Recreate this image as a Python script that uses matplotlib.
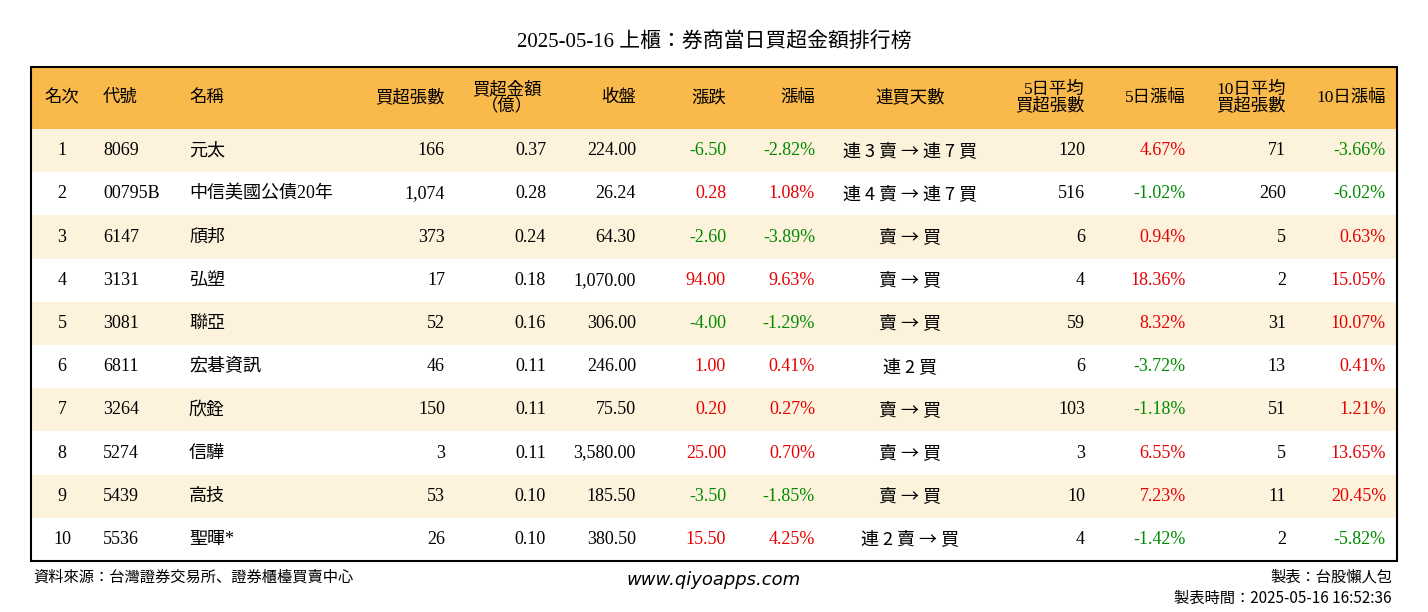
import matplotlib
matplotlib.use("Agg")
import matplotlib.pyplot as plt
from matplotlib.patches import Rectangle
from matplotlib import font_manager as fm

ranks = list(range(1, 11))
codes = ["8069", "00795B", "6147", "3131", "3081", "6811", "3264", "5274", "5439", "5536"]
names = ["元太", "中信美國公債20年", "頎邦", "弘塑", "聯亞", "宏碁資訊", "欣銓", "信驊", "高技", "聖暉*"]
net_lots = [166, 1074, 373, 17, 52, 46, 150, 3, 53, 26]
net_amt = [0.37, 0.28, 0.24, 0.18, 0.16, 0.11, 0.11, 0.11, 0.10, 0.10]
close = [224.00, 26.24, 64.30, 1070.00, 306.00, 246.00, 75.50, 3580.00, 185.50, 380.50]
change = [-6.50, 0.28, -2.60, 94.00, -4.00, 1.00, 0.20, 25.00, -3.50, 15.50]
pct = [-2.82, 1.08, -3.89, 9.63, -1.29, 0.41, 0.27, 0.70, -1.85, 4.25]
streak = ["連 3 賣 → 連 7 買", "連 4 賣 → 連 7 買", "賣 → 買", "賣 → 買", "賣 → 買",
          "連 2 買", "賣 → 買", "賣 → 買", "賣 → 買", "連 2 賣 → 買"]
avg5 = [120, 516, 6, 4, 59, 6, 103, 3, 10, 4]
pct5 = [4.67, -1.02, 0.94, 18.36, 8.32, -3.72, -1.18, 6.55, 7.23, -1.42]
avg10 = [71, 260, 5, 2, 31, 13, 51, 5, 11, 2]
pct10 = [-3.66, -6.02, 0.63, 15.05, 10.07, 0.41, 1.21, 13.65, 20.45, -5.82]

avail = {f.name for f in fm.fontManager.ttflist}
cjk = [n for n in ["Noto Sans CJK TC", "Noto Sans CJK JP", "Noto Sans CJK SC",
                   "Noto Sans CJK KR", "Noto Serif CJK TC", "Noto Serif CJK JP"] if n in avail]
CJK = cjk[0] if cjk else "DejaVu Sans"
FONT = ["Liberation Serif", CJK]
RED, GREEN = "#e60000", "#008a00"

fig = plt.figure(figsize=(14.28, 6.12), dpi=100)
ax = fig.add_axes([0, 0, 1, 1])
ax.set_xlim(0, 1428); ax.set_ylim(612, 0); ax.axis("off")

L, R, T, HB = 31, 1397, 67, 129
RH = 43.2
ax.add_patch(Rectangle((L, T), R - L, HB - T, color="#F9B94B", lw=0))
for i in range(10):
    y0 = HB + i * RH
    ax.add_patch(Rectangle((L, y0), R - L, RH, color="#FDF3DC" if i % 2 == 0 else "white", lw=0))
ax.add_patch(Rectangle((L, T), R - L, HB + 10 * RH - T, fill=False, ec="black", lw=1.5))

ax.text(714, 42, "2025-05-16 上櫃：券商當日買超金額排行榜", ha="center", va="center",
        fontsize=15, fontfamily=FONT, fontweight="normal")

hy = (T + HB) / 2
headers = [(62, "center", "名次"), (103, "left", "代號"), (189, "left", "名稱"),
           (445, "right", "買超張數"), (507, "center", "買超金額\n（億）"), (636, "right", "收盤"),
           (726, "right", "漲跌"), (815, "right", "漲幅"), (910, "center", "連買天數"),
           (1085, "right", "5日平均\n買超張數"), (1186, "right", "5日漲幅"),
           (1286, "right", "10日平均\n買超張數"), (1386, "right", "10日漲幅")]
for x, ha, t in headers:
    ax.text(x, hy, t, ha=ha, va="center", fontsize=12.5, fontfamily=FONT,
            linespacing=0.95, fontweight="normal")

def col(v):
    return RED if v > 0 else GREEN

fs = 13
for i in range(10):
    y = HB + (i + 0.5) * RH
    kw = dict(va="center", fontsize=fs, fontfamily=FONT)
    ax.text(62, y, str(ranks[i]), ha="center", **kw)
    ax.text(103, y, codes[i], ha="left", **kw)
    ax.text(189, y, names[i], ha="left", **kw)
    ax.text(445, y, f"{net_lots[i]:,}", ha="right", **kw)
    ax.text(546, y, f"{net_amt[i]:.2f}", ha="right", **kw)
    ax.text(636, y, f"{close[i]:,.2f}", ha="right", **kw)
    ax.text(726, y, f"{change[i]:.2f}", ha="right", color=col(change[i]), **kw)
    ax.text(815, y, f"{pct[i]:.2f}%", ha="right", color=col(pct[i]), **kw)
    ax.text(910, y, streak[i], ha="center", va="center", fontsize=fs,
            fontfamily=[CJK, "Liberation Serif"])
    ax.text(1085, y, f"{avg5[i]:,}", ha="right", **kw)
    ax.text(1186, y, f"{pct5[i]:.2f}%", ha="right", color=col(pct5[i]), **kw)
    ax.text(1286, y, f"{avg10[i]:,}", ha="right", **kw)
    ax.text(1386, y, f"{pct10[i]:.2f}%", ha="right", color=col(pct10[i]), **kw)

ax.text(33, 577, "資料來源：台灣證券交易所、證券櫃檯買賣中心", ha="left", va="center",
        fontsize=11, fontfamily=[CJK])
ax.text(714, 580, "www.qiyoapps.com", ha="center", va="center", fontsize=13,
        fontstyle="italic", fontfamily="DejaVu Sans")
ax.text(1392, 577, "製表：台股懶人包", ha="right", va="center", fontsize=11,
        fontfamily=[CJK])
ax.text(1392, 598, "製表時間：2025-05-16 16:52:36", ha="right", va="center", fontsize=11,
        fontfamily=[CJK])

fig.savefig("out.png", dpi=100)
